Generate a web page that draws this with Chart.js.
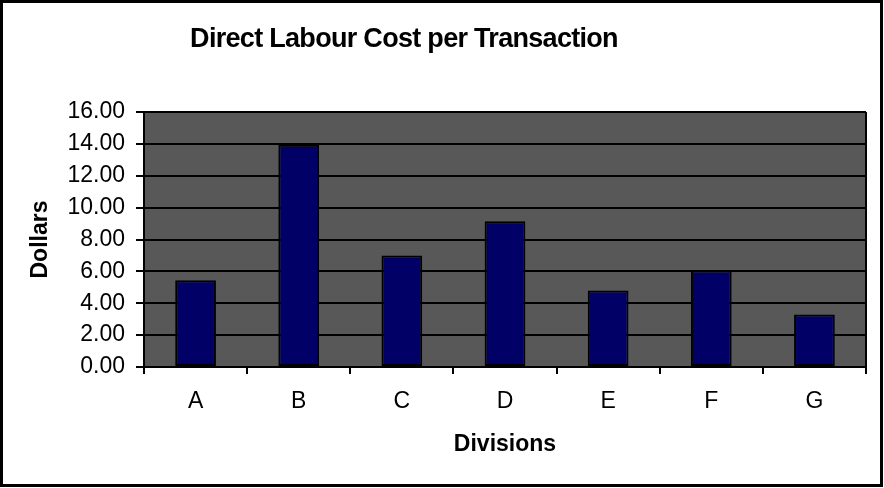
<!DOCTYPE html>
<html>
<head>
<meta charset="utf-8">
<script src="https://cdn.jsdelivr.net/npm/chart.js@4"></script>
<style>
  html, body { margin: 0; padding: 0; background: #fff; }
  #wrap { width: 884px; height: 488px; }
</style>
</head>
<body>
<div id="wrap"><canvas id="costChart" width="884" height="488"></canvas></div>
<script>
const divisions = ['A', 'B', 'C', 'D', 'E', 'F', 'G'];
const costs = [5.45, 13.95, 7.0, 9.15, 4.8, 6.05, 3.3];
const chartTitle = 'Direct Labour Cost per Transaction';

const FONT = '"Liberation Sans", Arial, sans-serif';

// white page, plot background, outer frame and title
const frame = {
  id: 'frame',
  beforeDraw(chart) {
    const { ctx, chartArea: a } = chart;
    ctx.save();
    ctx.fillStyle = '#fff';
    ctx.fillRect(0, 0, chart.width, chart.height);
    ctx.fillStyle = '#585858';
    ctx.fillRect(a.left, a.top, a.right - a.left, a.bottom - a.top);
    ctx.restore();
  },
  beforeDatasetsDraw(chart) {
    const { ctx, chartArea: a } = chart;
    ctx.save();
    ctx.strokeStyle = '#000';
    ctx.lineWidth = 2;
    ctx.beginPath();
    ctx.moveTo(a.right, a.top);
    ctx.lineTo(a.right, a.bottom);
    ctx.stroke();
    ctx.restore();
  },
  afterDraw(chart) {
    const ctx = chart.ctx;
    ctx.save();
    ctx.strokeStyle = '#000';
    ctx.lineWidth = 3;
    ctx.strokeRect(1.5, 1.5, chart.width - 4, chart.height - 4);
    ctx.fillStyle = '#000';
    ctx.font = 'bold 27px ' + FONT;
    ctx.letterSpacing = '-0.7px';
    ctx.textAlign = 'center';
    ctx.textBaseline = 'alphabetic';
    ctx.fillText(chartTitle, 404, 47);
    ctx.restore();
  }
};

new Chart(document.getElementById('costChart'), {
  type: 'bar',
  data: {
    labels: divisions,
    datasets: [{
      data: costs,
      backgroundColor: '#000066',
      borderColor: '#000',
      borderWidth: 2,
      borderSkipped: false,
      categoryPercentage: 1,
      barPercentage: 0.395
    }]
  },
  options: {
    responsive: false,
    animation: false,
    devicePixelRatio: 1,
    layout: { padding: { left: 0, right: 18, top: 112, bottom: 0 } },
    plugins: { legend: { display: false }, tooltip: { enabled: false }, title: { display: false } },
    scales: {
      x: {
        afterFit(s) { s.height = 121; },
        grid: { display: true, drawOnChartArea: false, drawTicks: true, tickLength: 7, color: '#000', lineWidth: 2, offset: true },
        border: { display: true, color: '#000', width: 2 },
        ticks: { color: '#000', font: { family: FONT, size: 23 }, padding: 14 },
        title: { display: true, text: 'Divisions', color: '#000', font: { family: FONT, size: 23, weight: 'bold' }, padding: { top: 0, bottom: 30 } }
      },
      y: {
        min: 0,
        max: 16,
        afterFit(s) { s.width = 144; },
        grid: { color: '#000', lineWidth: 2, tickLength: 8, drawTicks: true },
        border: { display: true, color: '#000', width: 2 },
        ticks: {
          stepSize: 2,
          color: '#000',
          padding: 11,
          font: { family: FONT, size: 23 },
          callback: v => v.toFixed(2)
        },
        title: { display: true, text: 'Dollars', color: '#000', font: { family: FONT, size: 23, weight: 'bold' }, padding: { top: 27, bottom: 0 } }
      }
    }
  },
  plugins: [frame]
});
</script>
</body>
</html>
